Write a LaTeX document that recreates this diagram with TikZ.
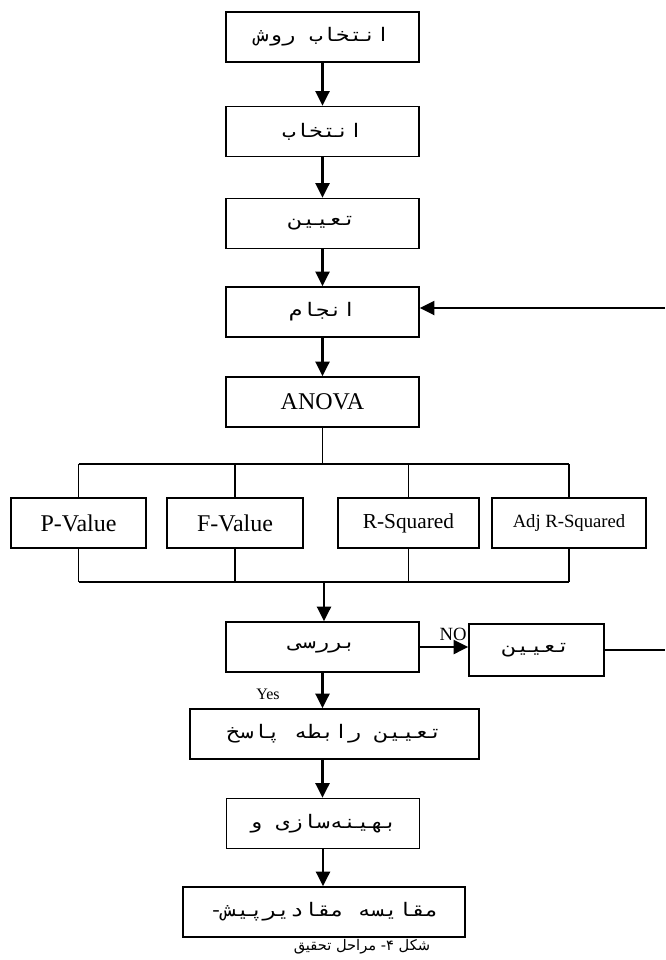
\documentclass[tikz,border=0pt]{standalone}
\usepackage{fontspec}
\usepackage{graphicx}
\usetikzlibrary{arrows.meta}
\TeXXeTstate=1
\setmainfont{Liberation Serif}
\newfontfamily\monofa[Script=Arabic]{DejaVu Sans Mono}
\newfontfamily\captionfa[Script=Arabic]{DejaVu Sans}
\newcommand{\fa}[1]{\scalebox{1.2}[1]{\monofa\beginR #1\endR}}

\begin{document}
\begin{tikzpicture}[x=0.75pt, y=-0.75pt,
  stage/.style={draw, line width=1.1pt, minimum width=144.75pt, minimum height=37.5pt, inner sep=2pt, font=\fontsize{14}{16}\selectfont},
  metric/.style={draw, line width=1.1pt, minimum height=37.5pt, inner sep=2pt},
  flow/.style={-{Triangle[length=11pt, width=10.5pt]}, line width=1.75pt},
  tree/.style={line width=0.8pt},
  tag/.style={inner sep=0pt, anchor=base},
]

\useasboundingbox (0,0) rectangle (665,960);

% Main column
\node[stage] (method) at (322.5,37) {\fa{انتخاب روش}};
\node[stage] (select) at (322.5,131.5) {\fa{انتخاب}};
\node[stage] (assign) at (322.5,223.5) {\fa{تعیین}};
\node[stage] (run) at (322.5,312) {\fa{انجام}};
\node[stage, font=\fontsize{18}{20}\selectfont] (anova) at (322.5,402) {ANOVA};

\draw[flow] (method) -- (select);
\draw[flow] (select) -- (assign);
\draw[flow] (assign) -- (run);
\draw[flow] (run) -- (anova);

% Feedback into run
\coordinate (loopin) at (665,308);
\draw[flow] (loopin) -- (loopin -| run.east);

% Metrics
\foreach \nm/\cx/\bw/\fs/\txt in {pval/78.5/135/18/P-Value, fval/235/136/18/F-Value, rsq/408.5/141/16/R-Squared, adjrsq/569/154/14/Adj R-Squared}
  \node[metric, minimum width=\bw*0.75pt, font=\fontsize{\fs}{\fs}\selectfont] (\nm) at (\cx,523) {\txt};

% Tree
\coordinate (split) at (322.5,464);
\coordinate (join) at (324,582);
\draw[tree] (anova) -- (split);
\draw[tree] (pval.north |- split) -- (adjrsq.north |- split);
\draw[tree] (pval.south |- join) -- (adjrsq.south |- join);
\foreach \nm in {pval,fval,rsq,adjrsq} {
  \draw[tree] (\nm.north |- split) -- (\nm.north);
  \draw[tree] (\nm.south) -- (\nm.south |- join);
}

% Check
\node[stage] (check) at (322.5,647) {\fa{بررسی}};
\node[stage, minimum width=101.25pt, minimum height=39pt] (redo) at (536.5,650) {\fa{تعیین}};
\draw[flow] (join) -- (join |- check.north);
\draw[flow] (check.east) -- (check.east -| redo.west);
\node[tag, font=\fontsize{14}{14}\selectfont] (nolbl) at (453,640) {NO};
\coordinate (loopout) at (665,650);
\draw[line width=1pt] (redo.east) -- (loopout);

% Yes branch
\node[stage, minimum width=216.75pt] (resp) at (334.5,734) {\fa{تعیین رابطه پاسخ}};
\node[tag, font=\fontsize{12}{12}\selectfont] (yeslbl) at (268,699) {Yes};
\draw[flow] (check.south) -- (check.south |- resp.north);
\node[stage] (opt) at (323,823.5) {\fa{بهینه‌سازی و}};
\draw[flow] (check.south |- resp.south) -- (check.south |- opt.north);
\node[stage, minimum width=211.5pt] (compare) at (324,912) {\fa{مقایسه مقادیرپیش-}};
\draw[flow] (opt.south) -- (opt.south |- compare.north);

% Caption
\node[inner sep=0pt, anchor=north, font=\captionfa\fontsize{11}{11}\selectfont] (caption) at (362,939) {\beginR شکل ۴- مراحل تحقیق\endR};

\end{tikzpicture}
\end{document}
